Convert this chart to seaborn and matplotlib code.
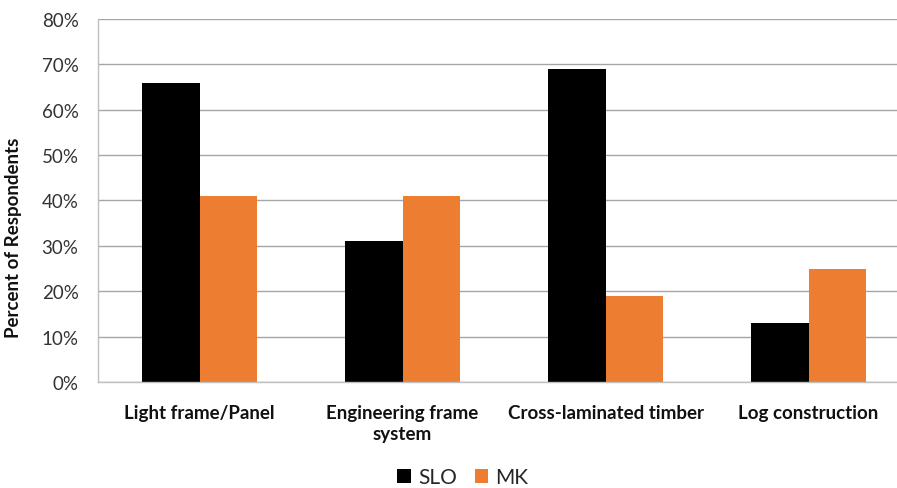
import matplotlib
matplotlib.use("Agg")
import matplotlib.pyplot as plt
import seaborn as sns
import pandas as pd
from matplotlib.patches import Patch
from matplotlib.ticker import FuncFormatter

categories = ["Light frame/Panel", "Engineering frame\nsystem",
              "Cross-laminated timber", "Log construction"]
series = ["SLO", "MK"]
slo_values = [66, 31, 69, 13]
mk_values = [41, 41, 19, 25]
colors = {"SLO": "#000000", "MK": "#ED7D31"}

df = pd.DataFrame({
    "category": categories * 2,
    "series": ["SLO"] * len(categories) + ["MK"] * len(categories),
    "value": slo_values + mk_values,
})

sns.set_theme(style="white")
plt.rcParams["font.family"] = ["Lato", "DejaVu Sans"]

fig = plt.figure(figsize=(8.97, 4.89), dpi=100)
ax = fig.add_axes([98 / 897, 106 / 489, 812 / 897, 363 / 489])

sns.barplot(data=df, x="category", y="value", hue="series",
            hue_order=series, palette=colors, width=0.566,
            linewidth=0, saturation=1, ax=ax, legend=False)

ax.set_xlim(-0.5, 3.5)
ax.set_ylim(0, 80)
ax.set_yticks(range(0, 81, 10))
ax.yaxis.set_major_formatter(FuncFormatter(lambda v, p: f"{int(v)}%"))
ax.yaxis.grid(True, color="#A6A6A6", linewidth=1)
ax.set_axisbelow(True)
for s in ["top", "right"]:
    ax.spines[s].set_visible(False)
for s in ["left", "bottom"]:
    ax.spines[s].set_color("#BFBFBF")
    ax.spines[s].set_linewidth(1)

ax.tick_params(axis="y", labelsize=13.5, colors="#333333", length=0, pad=14)
ax.tick_params(axis="x", labelsize=13.5, length=0, pad=16)
for lbl in ax.get_xticklabels():
    lbl.set_fontweight("bold")
    lbl.set_color("#111111")
    lbl.set_linespacing(1.25)
ax.set_xlabel("")
ax.set_ylabel("Percent of Respondents", fontsize=13.5, fontweight="bold",
              color="#111111")
ax.yaxis.set_label_coords(-0.093, 0.40)

handles = [Patch(facecolor=colors[s], edgecolor="none") for s in series]
fig.legend(handles, series, loc="center", bbox_to_anchor=(463 / 897, 1 - 478 / 489),
           ncol=2, frameon=False, fontsize=15, handlelength=0.65, handleheight=0.65,
           handletextpad=0.35, columnspacing=0.85)

fig.savefig("out.png", dpi=100)
